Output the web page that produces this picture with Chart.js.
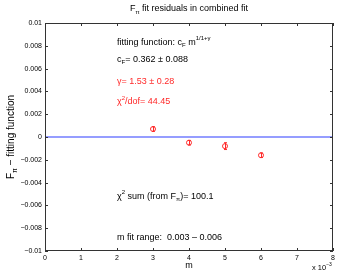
<!DOCTYPE html>
<html>
<head>
<meta charset="utf-8">
<script src="https://cdn.jsdelivr.net/npm/chart.js@4/dist/chart.umd.min.js"></script>
<style>
html, body { margin: 0; padding: 0; background: #fff; }
#wrap { width: 338px; height: 273px; }
</style>
</head>
<body>
<div id="wrap"><canvas id="chart" width="338" height="273"></canvas></div>
<script>
// residuals of F_pi against the combined fit
const mValues = [0.003, 0.004, 0.005, 0.006];
const residuals = [0.0007, -0.0005, -0.0008, -0.0016];
const residualErrors = [0.0002, 0.0002, 0.0003, 0.0002];
const zeroLineX = [0, 0.008];
const zeroLineY = [0, 0];
const xTickLabels = ['0', '1', '2', '3', '4', '5', '6', '7', '8'];
const yTickLabels = ['\u22120.01', '\u22120.008', '\u22120.006', '\u22120.004', '\u22120.002', '0',
    '0.002', '0.004', '0.006', '0.008', '0.01'];

const FONT = '"Liberation Sans", Arial, Helvetica, sans-serif';
const RED = '#ff2a2a';

// text boxes inside the plot, anchored in data coordinates
const notes = [
    { x: 0.002, y: 0.00833, color: '#000', parts: [['fitting function: c'], ['F', 'sub'], [' m'], ['1/1+\u03b3', 'sup']] },
    { x: 0.002, y: 0.00684, color: '#000', parts: [['c'], ['F', 'sub'], ['= 0.362 \u00b1 0.088']] },
    { x: 0.002, y: 0.00491, color: RED, parts: [['\u03b3= 1.53 \u00b1 0.28']] },
    { x: 0.002, y: 0.00307, color: RED, parts: [['\u03c7'], ['2', 'sup'], ['/dof= 44.45']] },
    { x: 0.002, y: -0.00518, color: '#000', parts: [['\u03c7'], ['2', 'sup'], [' sum (from F'], ['\u03c0', 'sub'], [')= 100.1']] },
    { x: 0.002, y: -0.00886, color: '#000', parts: [['m fit range:  0.003 \u2013 0.006']] }
];

function partFont(size, kind) {
    return (kind ? Math.round(size * 0.7) : size) + 'px ' + FONT;
}

function richWidth(ctx, parts, size) {
    let w = 0;
    parts.forEach(p => { ctx.font = partFont(size, p[1]); w += ctx.measureText(p[0]).width; });
    return w;
}

function richText(ctx, x, y, parts, size, color, align) {
    ctx.save();
    ctx.fillStyle = color;
    ctx.textBaseline = 'middle';
    ctx.textAlign = 'left';
    let cx = align === 'center' ? x - richWidth(ctx, parts, size) / 2 : x;
    parts.forEach(p => {
        ctx.font = partFont(size, p[1]);
        let dy = 0;
        if (p[1] === 'sub') dy = size * 0.4;
        if (p[1] === 'sup') dy = -size * 0.45;
        ctx.fillText(p[0], cx, y + dy);
        cx += ctx.measureText(p[0]).width;
    });
    ctx.restore();
}

const errorBars = {
    id: 'errorBars',
    afterDatasetsDraw(chart) {
        const { ctx, scales: { x, y } } = chart;
        ctx.save();
        ctx.strokeStyle = RED;
        ctx.lineWidth = 1;
        mValues.forEach((m, i) => {
            const px = Math.round(x.getPixelForValue(m)) + 0.5;
            const top = y.getPixelForValue(residuals[i] + residualErrors[i]);
            const bot = y.getPixelForValue(residuals[i] - residualErrors[i]);
            ctx.beginPath();
            ctx.moveTo(px, top); ctx.lineTo(px, bot);
            ctx.moveTo(px - 1.5, top); ctx.lineTo(px + 1.5, top);
            ctx.moveTo(px - 1.5, bot); ctx.lineTo(px + 1.5, bot);
            ctx.stroke();
        });
        ctx.restore();
    }
};

const frame = {
    id: 'frame',
    afterDraw(chart) {
        const { ctx, chartArea: a, scales: { x, y } } = chart;
        ctx.save();
        ctx.strokeStyle = '#333';
        ctx.lineWidth = 1;
        ctx.strokeRect(Math.round(a.left) + 0.5, Math.round(a.top) + 0.5,
            Math.round(a.right - a.left) - 1, Math.round(a.bottom - a.top) - 1);
        ctx.beginPath();
        x.ticks.forEach(t => {
            const px = Math.round(x.getPixelForValue(t.value)) + 0.5;
            ctx.moveTo(px, a.bottom); ctx.lineTo(px, a.bottom - 3);
            ctx.moveTo(px, a.top); ctx.lineTo(px, a.top + 3);
        });
        y.ticks.forEach(t => {
            const py = Math.round(y.getPixelForValue(t.value)) + 0.5;
            ctx.moveTo(a.left, py); ctx.lineTo(a.left + 3, py);
            ctx.moveTo(a.right, py); ctx.lineTo(a.right - 3, py);
        });
        ctx.stroke();
        ctx.restore();

        notes.forEach(n => richText(ctx, x.getPixelForValue(n.x), y.getPixelForValue(n.y), n.parts, 9, n.color, 'left'));

        const midX = (a.left + a.right) / 2;
        richText(ctx, midX, 9, [['F'], ['\u03c0', 'sub'], [' fit residuals in combined fit']], 9, '#000', 'center');
        richText(ctx, midX, 266, [['m']], 9, '#000', 'center');
        richText(ctx, a.right - 21, 268, [['x 10'], ['\u22123', 'sup']], 7.5, '#000', 'left');

        ctx.save();
        ctx.translate(11, (a.top + a.bottom) / 2);
        ctx.rotate(-Math.PI / 2);
        richText(ctx, 0, 0, [['F'], ['\u03c0', 'sub'], [' \u2212 fitting function']], 10, '#000', 'center');
        ctx.restore();
    }
};

new Chart(document.getElementById('chart'), {
    type: 'scatter',
    data: {
        datasets: [
            {
                type: 'line',
                data: zeroLineX.map((v, i) => ({ x: v, y: zeroLineY[i] })),
                borderColor: '#2d3cff',
                borderWidth: 1.2,
                pointRadius: 0
            },
            {
                data: mValues.map((v, i) => ({ x: v, y: residuals[i] })),
                borderColor: RED,
                backgroundColor: 'rgba(0,0,0,0)',
                borderWidth: 1,
                pointRadius: 2.5
            }
        ]
    },
    options: {
        responsive: false,
        animation: false,
        devicePixelRatio: 1,
        layout: { padding: { top: 23, right: 5, left: 0, bottom: 0 } },
        plugins: { legend: { display: false }, tooltip: { enabled: false } },
        scales: {
            x: {
                type: 'linear', min: 0, max: 0.008,
                afterFit: s => { s.height = 22; },
                grid: { display: false, drawTicks: false },
                border: { display: false },
                ticks: {
                    stepSize: 0.001, padding: 3, maxRotation: 0, autoSkip: false,
                    color: '#000', font: { family: FONT, size: 7 },
                    callback: (v, i) => xTickLabels[i]
                }
            },
            y: {
                type: 'linear', min: -0.01, max: 0.01,
                afterFit: s => { s.width = 45; },
                grid: { display: false, drawTicks: false },
                border: { display: false },
                ticks: {
                    stepSize: 0.002, padding: 3, autoSkip: false,
                    color: '#000', font: { family: FONT, size: 7 },
                    callback: (v, i) => yTickLabels[i]
                }
            }
        }
    },
    plugins: [errorBars, frame]
});
</script>
</body>
</html>
